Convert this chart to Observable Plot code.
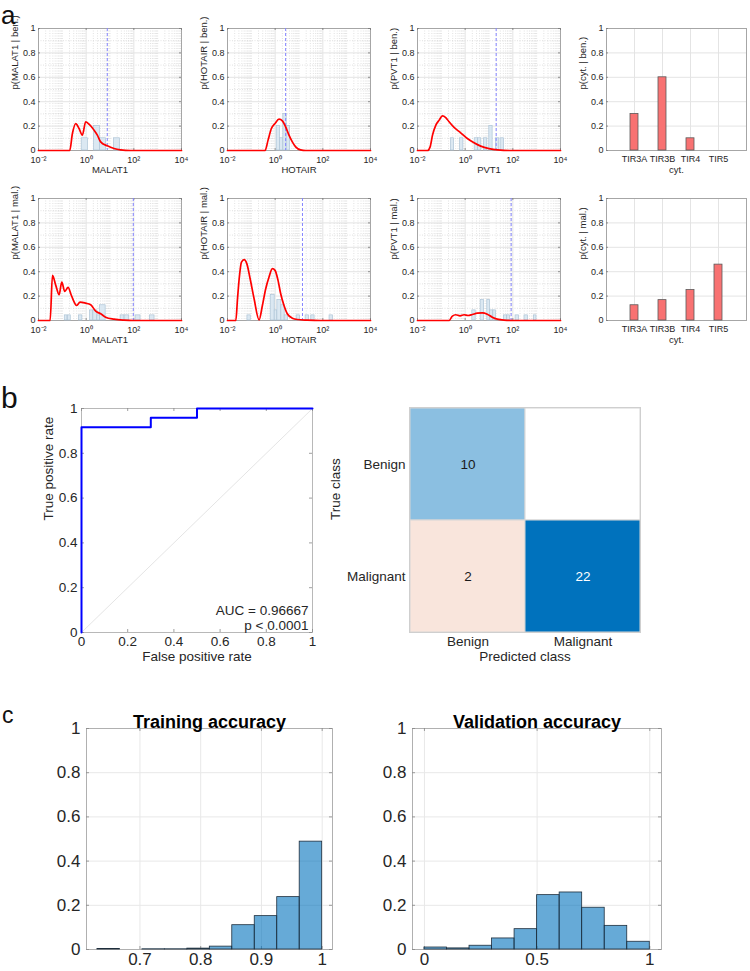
<!DOCTYPE html>
<html><head><meta charset="utf-8">
<script src="https://cdn.jsdelivr.net/npm/d3@7"></script>
<script src="https://cdn.jsdelivr.net/npm/@observablehq/plot@0.6"></script>
<style>
body{margin:0;background:#fff;}
#root{position:relative;width:750px;height:971px;overflow:hidden;background:#fff;}
</style></head><body><div id="root"></div>
<script>
// ---------------- DATA ----------------
const logTicks = [0.01, 1, 100, 10000];
const logTickLabels = ["10⁻²", "10⁰", "10²", "10⁴"];
const probTicks = [0, 0.2, 0.4, 0.6, 0.8, 1];
const probTickLabels = ["0", "0.2", "0.4", "0.6", "0.8", "1"];

const genes = ["MALAT1", "HOTAIR", "PVT1"];
const benLabels = ["p(MALAT1 | ben.)", "p(HOTAIR | ben.)", "p(PVT1 | ben.)"];
const malLabels = ["p(MALAT1 | mal.)", "p(HOTAIR | mal.)", "p(PVT1 | mal.)"];

// density curves: [log10(expression), probability]
const malat1BenCurve = [[-2,0],[-0.69,0],[-0.577,0.139],[-0.438,0.221],[-0.298,0.18],[-0.159,0.126],[-0.02,0.235],[0.12,0.216],[0.33,0.167],[0.469,0.126],[0.608,0.071],[0.887,0.038],[1.166,0.016],[1.445,0.005],[1.86,0],[4,0]];
const hotairBenCurve = [[-2,0],[-0.424,0],[-0.298,0.085],[-0.159,0.18],[-0.006,0.221],[0.162,0.257],[0.301,0.243],[0.44,0.194],[0.58,0.126],[0.72,0.071],[0.859,0.03],[1.068,0.005],[1.28,0],[4,0]];
const pvt1BenCurve = [[-2,0],[-1.58,0],[-1.47,0.03],[-1.37,0.126],[-1.23,0.208],[-1.09,0.249],[-0.954,0.284],[-0.815,0.27],[-0.675,0.235],[-0.466,0.189],[-0.187,0.145],[0.092,0.098],[0.371,0.063],[0.65,0.036],[1.0,0.016],[1.347,0.005],[1.9,0],[4,0]];
const malat1MalCurve = [[-2,0],[-1.512,0],[-1.414,0.37],[-1.275,0.288],[-1.135,0.211],[-1.024,0.315],[-0.898,0.238],[-0.759,0.271],[-0.62,0.205],[-0.396,0.123],[-0.257,0.151],[-0.02,0.142],[0.19,0.129],[0.399,0.077],[0.608,0.055],[0.817,0.027],[1.166,0.011],[1.58,0.003],[2.0,0],[4,0]];
const hotairMalCurve = [[-2,0],[-1.651,0],[-1.58,0.178],[-1.51,0.342],[-1.414,0.479],[-1.30,0.499],[-1.19,0.466],[-1.05,0.342],[-0.884,0.178],[-0.675,0.005],[-0.536,0.123],[-0.396,0.26],[-0.257,0.356],[-0.117,0.425],[-0.006,0.411],[0.12,0.329],[0.232,0.219],[0.371,0.123],[0.51,0.055],[0.72,0.019],[0.929,0.008],[1.347,0.003],[1.9,0],[4,0]];
const pvt1MalCurve = [[-2,0],[-0.675,0],[-0.536,0.036],[-0.396,0.047],[-0.215,0.038],[-0.047,0.047],[0.12,0.041],[0.301,0.049],[0.51,0.06],[0.72,0.063],[0.929,0.052],[1.138,0.027],[1.347,0.011],[1.626,0.003],[2.04,0],[4,0]];

// histogram bars: [log10 lower edge, log10 upper edge, probability]
const malat1BenBars = [[-0.187,0.078,0.1],[0.329,0.58,0.2],[0.58,0.831,0.1],[1.166,1.417,0.1]];
const hotairBenBars = [[0.064,0.204,0.2],[0.204,0.343,0.1],[0.343,0.483,0.3],[0.483,0.622,0.2]];
const pvt1BenBars = [[-0.591,-0.466,0.1],[-0.215,-0.075,0.1],[0.399,0.538,0.1],[0.538,0.678,0.1],[0.789,0.929,0.1],[1.013,1.152,0.2],[1.291,1.431,0.1],[1.487,1.626,0.1]];
const malat1MalBars = [[-0.898,-0.787,0.042],[-0.759,-0.647,0.042],[-0.298,-0.159,0.042],[0.162,0.301,0.083],[0.301,0.469,0.083],[0.469,0.58,0.042],[0.58,0.817,0.125],[1.445,1.612,0.042],[1.612,1.808,0.042],[2.073,2.282,0.042],[2.672,2.868,0.042]];
const hotairMalBars = [[-1.163,-1.024,0.042],[-0.187,-0.02,0.208],[-0.02,0.092,0.083],[0.092,0.259,0.167],[0.259,0.399,0.125],[0.399,0.538,0.042],[0.901,1.04,0.042],[1.278,1.417,0.042],[1.515,1.654,0.042],[2.282,2.421,0.042]];
const pvt1MalBars = [[0.301,0.441,0.083],[0.65,0.789,0.167],[0.929,1.04,0.167],[1.04,1.18,0.083],[1.18,1.291,0.083],[1.626,1.766,0.042],[1.766,1.877,0.042],[2.114,2.254,0.042],[2.49,2.63,0.042],[2.882,2.993,0.042]];

// decision thresholds (expression value)
const benThresholds = [7.7, 2.75, 20];
const malThresholds = [95, 14, 85];

// cytology
const cytCategories = ["TIR3A", "TIR3B", "TIR4", "TIR5"];
const cytBen = [0.3, 0.6, 0.1, 0];
const cytMal = [0.125, 0.167, 0.25, 0.458];

// ROC
const rocFpr = [0, 0, 0.3, 0.3, 0.5, 0.5, 1];
const rocTpr = [0, 0.9167, 0.9167, 0.9583, 0.9583, 1, 1];
const chanceLine = [0, 1];
const rocTicks = [0, 0.2, 0.4, 0.6, 0.8, 1];
const rocTickLabels = ["0", "0.2", "0.4", "0.6", "0.8", "1"];
const aucText = ["AUC = 0.96667", "p < 0.0001"];

// confusion matrix (rows: true class, cols: predicted class)
const classNames = ["Benign", "Malignant"];
const confCounts = [[10, 0], [2, 22]];

// accuracy histograms
const trainBinLo = [0.630, 0.667, 0.704, 0.741, 0.778, 0.815, 0.852, 0.889, 0.926, 0.963];
const trainBinWidth = 0.037;
const trainProb = [0.002, 0, 0.001, 0.001, 0.004, 0.013, 0.11, 0.151, 0.237, 0.488];
const trainTicks = [0.7, 0.8, 0.9, 1];
const trainTickLabels = ["0.7", "0.8", "0.9", "1"];
const valBinLo = [0, 0.1, 0.2, 0.3, 0.4, 0.5, 0.6, 0.7, 0.8, 0.9];
const valBinWidth = 0.1;
const valProb = [0.009, 0.005, 0.017, 0.05, 0.092, 0.246, 0.258, 0.189, 0.107, 0.035];
const valTicks = [0, 0.5, 1];
const valTickLabels = ["0", "0.5", "1"];
const histYTicks = [0, 0.2, 0.4, 0.6, 0.8, 1];
const histYTickLabels = ["0", "0.2", "0.4", "0.6", "0.8", "1"];

// ---------------- HELPERS ----------------
const FONT = '"Liberation Sans", Arial, Helvetica, sans-serif';
const TXT = "#262626";
const root = document.getElementById("root");
function place(node, left, top) {
  node.style.position = "absolute";
  node.style.left = left + "px";
  node.style.top = top + "px";
  root.appendChild(node);
}
const baseStyle = (size) => ({fontFamily: FONT, fontSize: size + "px", color: TXT, background: "transparent", overflow: "visible"});
const fmt = (ticks, labels) => (d) => labels[ticks.indexOf(d)];

function boxTicks(xs, ys, W, H, len, stroke) {
  return [
    Plot.tickX(xs, {x: d => d, insetTop: H - len, stroke, strokeWidth: 0.8}),
    Plot.tickX(xs, {x: d => d, insetBottom: H - len, stroke, strokeWidth: 0.8}),
    Plot.tickY(ys, {y: d => d, insetRight: W - len, stroke, strokeWidth: 0.8}),
    Plot.tickY(ys, {y: d => d, insetLeft: W - len, stroke, strokeWidth: 0.8})
  ];
}

const minorLog = [0.1, 10, 1000];
for (let e = -2; e < 4; e++) for (let m = 2; m <= 9; m++) minorLog.push(m * Math.pow(10, e));
const minorProb = [0.1, 0.3, 0.5, 0.7, 0.9];

const A = {W: 143, H: 122, ml: 38, mr: 8, mt: 6, mb: 30};

function logPanel(gene, ylabel, curve, bars, threshold) {
  const {W, H, ml, mr, mt, mb} = A;
  return Plot.plot({
    width: ml + W + mr, height: mt + H + mb,
    marginLeft: ml, marginRight: mr, marginTop: mt, marginBottom: mb,
    style: baseStyle(9.5),
    x: {type: "log", domain: [0.01, 10000], axis: null},
    y: {domain: [0, 1], axis: null},
    marks: [
      Plot.ruleX(minorLog, {stroke: "#cfcfcf", strokeWidth: 0.6, strokeDasharray: "1,1.5"}),
      Plot.ruleY(minorProb, {stroke: "#cfcfcf", strokeWidth: 0.6, strokeDasharray: "1,1.5"}),
      Plot.ruleX(logTicks, {stroke: "#e4e4e4"}),
      Plot.ruleY(probTicks, {stroke: "#e4e4e4"}),
      Plot.frame({stroke: "#a6a6a6"}),
      ...boxTicks(logTicks, probTicks, W, H, 2, "#777"),
      Plot.rect(bars, {x1: d => Math.pow(10, d[0]), x2: d => Math.pow(10, d[1]), y1: 0, y2: d => d[2], fill: "#dbe8f2", stroke: "#adc4d6", strokeWidth: 0.7}),
      Plot.ruleX([threshold], {stroke: "#8585ff", strokeWidth: 1, strokeDasharray: "3,2"}),
      Plot.line(curve, {x: d => Math.pow(10, d[0]), y: d => d[1], stroke: "#ff0000", strokeWidth: 1.7, curve: "monotone-x"}),
      Plot.axisX(logTicks, {tickFormat: fmt(logTicks, logTickLabels), tickSize: 0, tickPadding: 6, fontSize: 9, label: null}),
      Plot.axisY(probTicks, {tickFormat: fmt(probTicks, probTickLabels), tickSize: 0, tickPadding: 3, fontSize: 9, label: null}),
      Plot.text([gene], {frameAnchor: "bottom", dy: 22}),
      Plot.text([ylabel], {frameAnchor: "left", dx: -24, rotate: -90})
    ]
  });
}

function cytPanel(ylabel, probs) {
  const {H, ml, mr, mt, mb} = A; const W = 140;
  const data = cytCategories.map((c, i) => ({c, p: probs[i]})).filter(d => d.p > 0);
  return Plot.plot({
    width: ml + W + mr, height: mt + H + mb,
    marginLeft: ml, marginRight: mr, marginTop: mt, marginBottom: mb,
    style: baseStyle(9.5),
    x: {type: "band", domain: cytCategories, paddingInner: 0.7, paddingOuter: 0.85, axis: null, label: null},
    y: {domain: [0, 1], axis: null, label: null},
    marks: [
      Plot.gridX({stroke: "#e4e4e4", strokeOpacity: 1}),
      Plot.ruleY(probTicks, {stroke: "#e4e4e4"}),
      Plot.frame({stroke: "#a6a6a6"}),
      Plot.tickY(probTicks, {y: d => d, insetRight: W - 2, stroke: "#777", strokeWidth: 0.8}),
      Plot.barY(data, {x: "c", y: "p", fill: "#f87272", stroke: "#5a5a5a", strokeWidth: 0.8}),
      Plot.axisX({tickSize: 0, tickPadding: 5, fontSize: 9, label: null}),
      Plot.axisY(probTicks, {tickFormat: fmt(probTicks, probTickLabels), tickSize: 0, tickPadding: 3, fontSize: 9, label: null}),
      Plot.text(["cyt."], {frameAnchor: "bottom", dy: 22}),
      Plot.text([ylabel], {frameAnchor: "left", dx: -24, rotate: -90})
    ]
  });
}

function rocPanel() {
  const W = 231, H = 224, ml = 81, mr = 10, mt = 8, mb = 40;
  const roc = rocFpr.map((x, i) => ({x, y: rocTpr[i]}));
  return Plot.plot({
    width: ml + W + mr, height: mt + H + mb,
    marginLeft: ml, marginRight: mr, marginTop: mt, marginBottom: mb,
    style: baseStyle(13.5),
    x: {domain: [0, 1], axis: null}, y: {domain: [0, 1], axis: null},
    marks: [
      Plot.line(chanceLine, {x: d => d, y: d => d, stroke: "#dddddd", strokeWidth: 0.8}),
      Plot.frame({stroke: "#b8b8b8"}),
      ...boxTicks(rocTicks, rocTicks, W, H, 3, "#888"),
      Plot.line(roc, {x: "x", y: "y", stroke: "#0000ff", strokeWidth: 2}),
      Plot.axisX(rocTicks, {tickFormat: fmt(rocTicks, rocTickLabels), tickSize: 0, tickPadding: 4, label: null}),
      Plot.axisY(rocTicks, {tickFormat: fmt(rocTicks, rocTickLabels), tickSize: 0, tickPadding: 4, label: null}),
      Plot.text(["False positive rate"], {frameAnchor: "bottom", dy: 28}),
      Plot.text(["True positive rate"], {frameAnchor: "left", dx: -33, rotate: -90}),
      Plot.text([aucText.join("\n")], {frameAnchor: "bottom-right", dx: -4, dy: -3, textAnchor: "end", lineAnchor: "bottom", lineHeight: 1.1})
    ]
  });
}

function confPanel() {
  const W = 231, H = 225, ml = 79, mr = 10, mt = 7, mb = 40;
  const diagScale = d3.scaleLinear().domain([0, 22]).range(["#ffffff", "#0072bd"]);
  const offScale = d3.scaleLinear().domain([0, 13]).range(["#ffffff", "#d95319"]);
  const cells = [];
  classNames.forEach((t, i) => classNames.forEach((p, j) => cells.push({t, p, n: confCounts[i][j], diag: i === j})));
  return Plot.plot({
    width: ml + W + mr, height: mt + H + mb,
    marginLeft: ml, marginRight: mr, marginTop: mt, marginBottom: mb,
    style: baseStyle(13.5),
    x: {type: "band", domain: classNames, padding: 0, axis: null, label: null},
    y: {type: "band", domain: classNames, padding: 0, axis: null, label: null},
    marks: [
      Plot.cell(cells, {x: "p", y: "t", fill: d => d.diag ? diagScale(d.n) : offScale(d.n), stroke: "#d6d6d6", strokeWidth: 1}),
      Plot.text(cells.filter(d => d.n > 0), {x: "p", y: "t", text: d => String(d.n), fill: d => (d.diag && d.n > 15) ? "#ffffff" : "#1a1a1a"}),
      Plot.frame({stroke: "#cfcfcf"}),
      Plot.axisX({tickSize: 0, tickPadding: 4, label: null}),
      Plot.axisY({tickSize: 0, tickPadding: 4, label: null}),
      Plot.text(["Predicted class"], {frameAnchor: "bottom", dy: 28}),
      Plot.text(["True class"], {frameAnchor: "left", dx: -74, rotate: -90})
    ]
  });
}

function histPanel(title, binLo, binW, probs, W, domain, xticks, xlabels) {
  const H = 221, ml = 86, mr = 12, mt = 28, mb = 22;
  const data = binLo.map((lo, i) => ({lo, hi: lo + binW, p: probs[i]})).filter(d => d.p > 0);
  return Plot.plot({
    width: ml + W + mr, height: mt + H + mb,
    marginLeft: ml, marginRight: mr, marginTop: mt, marginBottom: mb,
    style: baseStyle(17),
    x: {domain, axis: null}, y: {domain: [0, 1], axis: null},
    marks: [
      Plot.ruleX(xticks, {stroke: "#e8e8e8"}),
      Plot.ruleY(histYTicks, {stroke: "#e8e8e8"}),
      Plot.frame({stroke: "#b0b0b0"}),
      ...boxTicks(xticks, histYTicks, W, H, 3, "#888"),
      Plot.rect(data, {x1: "lo", x2: "hi", y1: 0, y2: "p", fill: "#0072bd", fillOpacity: 0.6, stroke: "#1e2e3c", strokeWidth: 0.8}),
      Plot.axisX(xticks, {tickFormat: fmt(xticks, xlabels), tickSize: 0, tickPadding: 3, label: null}),
      Plot.axisY(histYTicks, {tickFormat: fmt(histYTicks, histYTickLabels), tickSize: 0, tickPadding: 6, label: null}),
      Plot.text([title], {frameAnchor: "top", dy: -13, fontSize: 18, fontWeight: "bold", fill: "#000"})
    ]
  });
}

// ---------------- LAYOUT ----------------
const colLeft = [0, 189, 379, 568];
const curvesBen = [malat1BenCurve, hotairBenCurve, pvt1BenCurve];
const curvesMal = [malat1MalCurve, hotairMalCurve, pvt1MalCurve];
const barsBen = [malat1BenBars, hotairBenBars, pvt1BenBars];
const barsMal = [malat1MalBars, hotairMalBars, pvt1MalBars];
genes.forEach((g, i) => {
  place(logPanel(g, benLabels[i], curvesBen[i], barsBen[i], benThresholds[i]), colLeft[i], 22);
  place(logPanel(g, malLabels[i], curvesMal[i], barsMal[i], malThresholds[i]), colLeft[i], 192);
});
place(cytPanel("p(cyt. | ben.)", cytBen), colLeft[3], 22);
place(cytPanel("p(cyt. | mal.)", cytMal), colLeft[3], 192);

place(rocPanel(), 0, 400);
place(confPanel(), 330, 400);

place(histPanel("Training accuracy", trainBinLo, trainBinWidth, trainProb, 246, [0.612, 1.017], trainTicks, trainTickLabels), 0, 700);
place(histPanel("Validation accuracy", valBinLo, valBinWidth, valProb, 249, [-0.053, 1.052], valTicks, valTickLabels), 326, 700);

// panel letters
const ns = "http://www.w3.org/2000/svg";
const ov = document.createElementNS(ns, "svg");
ov.setAttribute("width", 750); ov.setAttribute("height", 971);
ov.style.pointerEvents = "none";
[["a", 1, 24, 26], ["b", 1, 408, 30], ["c", 2, 723, 23]].forEach(([t, x, y, s]) => {
  const el = document.createElementNS(ns, "text");
  el.setAttribute("x", x); el.setAttribute("y", y);
  el.setAttribute("font-family", '"Liberation Sans", Arial, sans-serif');
  el.setAttribute("font-size", s); el.setAttribute("fill", "#111");
  el.textContent = t; ov.appendChild(el);
});
place(ov, 0, 0);
</script></body></html>
